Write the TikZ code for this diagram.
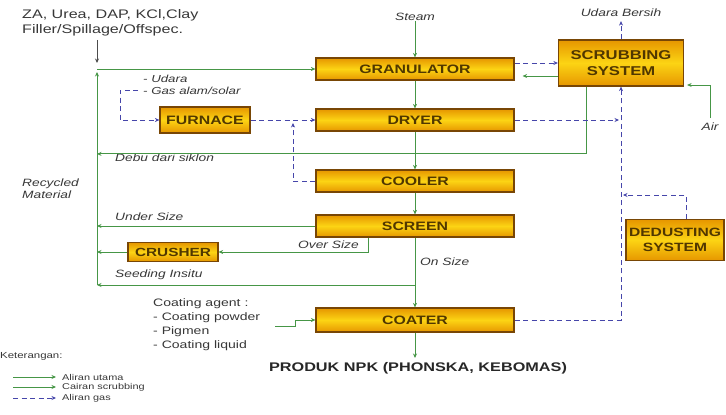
\documentclass[tikz,border=0pt]{standalone}
\usepackage{fontspec}
\setmainfont[FakeStretch=1.3]{Liberation Sans}
\usetikzlibrary{arrows.meta}
\usetikzlibrary{positioning}

\definecolor{flowgreen}{RGB}{70,150,70}
\definecolor{gasblue}{RGB}{70,70,170}
\definecolor{unitedge}{RGB}{120,70,5}
\definecolor{unittext}{RGB}{80,55,0}
\definecolor{unitdark}{RGB}{230,150,0}
\definecolor{unitlight}{RGB}{252,212,20}
\definecolor{labelgray}{RGB}{55,55,55}

\begin{document}
\begin{tikzpicture}[x=1pt,y=-1pt,
  unit/.style={draw=unitedge, line width=1.2pt, top color=unitdark, bottom color=unitdark,
    middle color=unitlight, text=unittext, inner sep=0pt, align=center,
    minimum width=198pt, minimum height=22pt, font=\bfseries\fontsize{12.2}{15}\selectfont},
  smallunit/.style={unit, minimum width=90pt},
  main/.style={flowgreen, line width=1pt, -{Stealth[length=4.5pt,width=4pt]}},
  gas/.style={gasblue, dash pattern=on 5pt off 3.5pt, line width=1pt, -{Stealth[length=4.5pt,width=4pt]}},
  lbl/.style={text=labelgray, inner sep=0pt, font=\itshape\fontsize{10.6}{12}\selectfont},
  note/.style={text=labelgray, inner sep=0pt, font=\fontsize{10.8}{14}\selectfont}]
\useasboundingbox (0,0) rectangle (726,415);

% process units
\node[unit] (gran) at (415,69) {GRANULATOR};
\node[unit] (dryer) at (415,120) {DRYER};
\node[unit] (cooler) at (415,181) {COOLER};
\node[unit] (screen) at (415,226) {SCREEN};
\node[unit, minimum height=24pt] (coater) at (415,320) {COATER};
\node[smallunit, minimum height=26pt] (furnace) at (205,120) {FURNACE};
\node[smallunit, minimum height=19pt, font=\bfseries\fontsize{11.8}{14}\selectfont] (crusher) at (173,252) {CRUSHER};
\node[unit, minimum width=125pt, minimum height=46pt, font=\bfseries\fontsize{12.8}{16}\selectfont] (scrub) at (621,63) {SCRUBBING\\SYSTEM};
\node[unit, minimum width=98pt, minimum height=41pt, font=\bfseries\fontsize{12}{15}\selectfont] (dedust) at (675,240) {DEDUSTING\\SYSTEM};

% texts
\node[anchor=north west, align=left, text=labelgray, inner sep=0pt, font=\fontsize{12.4}{15}\selectfont] (feed) at (22,9) {ZA, Urea, DAP, KCl,Clay\\Filler/Spillage/Offspec.};
\node[lbl] (steam) at (415,17) {Steam};
\node[lbl] (clean) at (621,13) {Udara Bersih};
\node[lbl] (airlbl) at (710,127) {Air};
\node[lbl, anchor=west, align=left, font=\itshape\fontsize{10.2}{11.5}\selectfont] (fuel) at (143,85) {- Udara\\- Gas alam/solar};
\node[lbl, anchor=west, align=left] (recycle) at (22,189) {Recycled\\Material};
\node[lbl, anchor=west] (debu) at (115,158) {Debu dari siklon};
\node[lbl, anchor=west] (under) at (115,217) {Under Size};
\node[lbl, anchor=west] (over) at (298,245) {Over Size};
\node[lbl, anchor=west] (seedlbl) at (115,275) {Seeding Insitu};
\node[lbl, anchor=west] (onsize) at (420,262) {On Size};
\node[note, anchor=north west, align=left] (coating) at (153,298) {Coating agent :\\- Coating powder\\- Pigmen\\- Coating liquid};
\node[text=labelgray!70!black, inner sep=0pt, font=\bfseries\fontsize{12.5}{15}\selectfont] (product) at (418,368) {PRODUK NPK (PHONSKA, KEBOMAS)};

% helper points
\coordinate (recTop) at (97,69);
\coordinate (recBot) at (97,285);
\coordinate (seed) at (415,285);
\coordinate (prodIn) at (415,358);
\coordinate (fuelIn) at (138,90);
\coordinate (airIn) at (710,118);
\coordinate (dedJoin) at (621,195);
\coordinate (coatIn) at (275,326);

% main line through the plant
\draw[main] (steam.south) -- (gran.north);
\draw[main] (gran.south) -- (dryer.north);
\draw[main] (dryer.south) -- (cooler.north);
\draw[main] (cooler.south) -- (screen.north);
\draw[main] (screen.south) -- (coater.north);
\draw[main] (coater.south) -- (prodIn);

% raw material and recycle
\draw[black!70, line width=0.8pt, -{Stealth[length=4.5pt,width=4pt]}] (feed.south -| recTop) ++(0,4) -- ([yshift=6pt]recTop);
\draw[main] (recBot) -- ([yshift=-3pt]recTop);
\draw[main] (recTop) -- (gran.west);
\draw[main] ([xshift=-35pt]scrub.south) |- (recTop |- debu.north) coordinate (debuEnd);
\draw[main] (screen.west) -- (screen.west -| recBot);
\draw[main] ([xshift=-47pt]screen.south) |- (crusher.east);
\draw[main] (crusher.west) -- (crusher.west -| recBot);
\draw[main] (seed) -- (recBot);
\draw[main] (coatIn) -- ++(20,0) |- (coater.west);

% scrubbing
\draw[main] ([yshift=-7pt]gran.east -| scrub.west) -- ([yshift=-7pt,xshift=8pt]gran.east);
\draw[main] (airIn) |- ([yshift=-22pt,xshift=3pt]scrub.east);

% gas lines
\draw[gas] ([yshift=6pt]gran.east) -- ([yshift=6pt]gran.east -| scrub.west);
\draw[gas] (scrub.north) -- ([yshift=-4pt]clean.south);
\draw[gas] (fuelIn) -- (120,90) |- (furnace.west);
\draw[gas] (furnace.east) -- (dryer.west);
\draw[gas] (cooler.west) -| ([yshift=-3pt]furnace.east -| 293,0);
\draw[gas] (dryer.east) -- ([xshift=-2pt]dryer.east -| scrub.south);
\draw[gas] ([xshift=11pt]dedust.north) |- ([xshift=2pt]dedJoin);
\draw[gas] (coater.east) -| (scrub.south);

% legend
\node[note, anchor=west, font=\fontsize{8.8}{10}\selectfont] (legend) at (0,356) {Keterangan:};
\node[note, anchor=west, font=\fontsize{8.4}{10}\selectfont] (lgMain) at (62,377) {Aliran utama};
\node[note, anchor=west, font=\fontsize{8.4}{10}\selectfont] (lgLiquid) at (62,387) {Cairan scrubbing};
\node[note, anchor=west, font=\fontsize{8.4}{10}\selectfont] (lgGas) at (62,398) {Aliran gas};
\draw[main] ([xshift=-49pt]lgMain.west) -- ([xshift=-6pt]lgMain.west);
\draw[main] ([xshift=-49pt]lgLiquid.west) -- ([xshift=-6pt]lgLiquid.west);
\draw[gas] ([xshift=-49pt]lgGas.west) -- ([xshift=-6pt]lgGas.west);

\end{tikzpicture}
\end{document}
